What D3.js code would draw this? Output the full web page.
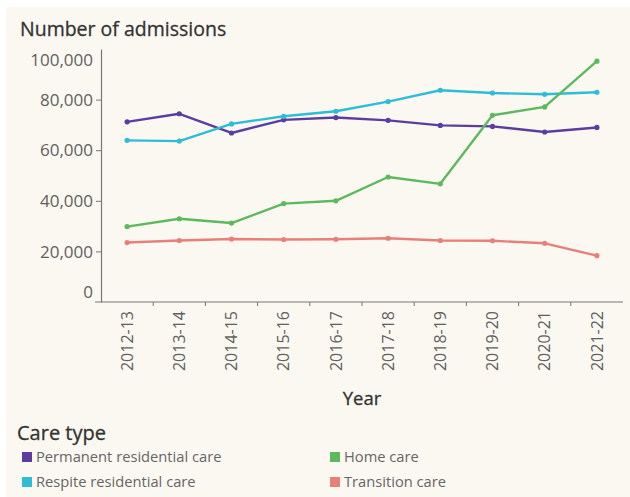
<!DOCTYPE html>
<html>
<head>
<meta charset="utf-8">
<script src="https://cdn.jsdelivr.net/npm/d3@7"></script>
<style>
  html, body { margin: 0; padding: 0; background: #fff; }
  svg { display: block; }
</style>
</head>
<body>
<div id="chart"></div>
<script>
// Data
const years = ["2012-13", "2013-14", "2014-15", "2015-16", "2016-17",
  "2017-18", "2018-19", "2019-20", "2020-21", "2021-22"];
const permanent = [71200, 74400, 66800, 72000, 72900, 71800, 69800, 69400, 67200, 69000];
const respite = [63900, 63600, 70400, 73400, 75400, 79200, 83700, 82600, 82100, 82900];
const homeCare = [29800, 32900, 31200, 38900, 40000, 49400, 46700, 73800, 77100, 95200];
const transition = [23500, 24300, 24900, 24700, 24800, 25200, 24300, 24200, 23200, 18300];
const yTicks = [0, 20000, 40000, 60000, 80000, 100000];

const seriesNames = ["Permanent residential care", "Respite residential care", "Home care", "Transition care"];
const seriesValues = [permanent, respite, homeCare, transition];
const colors = ["#5b3d9f", "#2dbdd6", "#5db95d", "#e8807a"];

const width = 630, height = 497;
const margin = { left: 101, right: 7, top: 49, bottom: 195 };
const font = "'Open Sans', 'Noto Sans', sans-serif";

const svg = d3.select("#chart").append("svg")
  .attr("width", width)
  .attr("height", height)
  .attr("font-family", font);

// cream panel
svg.append("rect")
  .attr("x", 6).attr("y", 7)
  .attr("width", width - 6).attr("height", height - 7)
  .attr("fill", "#fbf8f2");

const x = d3.scaleBand()
  .domain(years)
  .range([margin.left, width - margin.right]);

const y = d3.scaleLinear()
  .domain([0, 100000])
  .range([height - margin.bottom, margin.top]);

// y axis
const yAxis = svg.append("g")
  .attr("transform", `translate(${margin.left},0)`)
  .call(d3.axisLeft(y).tickValues(yTicks).tickSize(5).tickSizeOuter(0)
    .tickFormat(d3.format(",")));
yAxis.select(".domain").attr("stroke", "#777").attr("stroke-width", 1.2);
yAxis.selectAll(".tick line").attr("stroke", "#777")
  .attr("opacity", (d) => (d === 0 || d === 100000 ? 0 : 1));
yAxis.selectAll(".tick text")
  .attr("x", -8)
  .attr("fill", "#606060")
  .attr("font-size", 17)
  .attr("font-family", font)
  .attr("dy", (d) => (d === 0 ? "-0.28em" : d === 100000 ? "0.95em" : "0.34em"));

// x axis
const xAxis = svg.append("g")
  .attr("transform", `translate(0,${height - margin.bottom})`)
  .call(d3.axisBottom(x).tickSize(0));
xAxis.select(".domain").attr("stroke", "#777").attr("stroke-width", 1.2)
  .attr("d", `M${margin.left - 6},0H${width - margin.right}`);
xAxis.selectAll(".tick text")
  .attr("transform", "rotate(-90)")
  .attr("text-anchor", "end")
  .attr("x", -9)
  .attr("y", 0)
  .attr("dy", "0.36em")
  .attr("fill", "#606060")
  .attr("font-size", 16)
  .attr("font-family", font);

// tick marks between bands
svg.append("g")
  .selectAll("line")
  .data(years.slice(1))
  .join("line")
  .attr("x1", (d) => x(d))
  .attr("x2", (d) => x(d))
  .attr("y1", height - margin.bottom)
  .attr("y2", height - margin.bottom + 4)
  .attr("stroke", "#777");

// lines
const line = d3.line()
  .x((d, i) => x(years[i]) + x.bandwidth() / 2)
  .y((d) => y(d));

seriesValues.forEach((vals, k) => {
  svg.append("path")
    .datum(vals)
    .attr("fill", "none")
    .attr("stroke", colors[k])
    .attr("stroke-width", 2.4)
    .attr("stroke-linejoin", "round")
    .attr("d", line);
  svg.append("g")
    .selectAll("circle")
    .data(vals)
    .join("circle")
    .attr("cx", (d, i) => x(years[i]) + x.bandwidth() / 2)
    .attr("cy", (d) => y(d))
    .attr("r", 2.6)
    .attr("fill", colors[k]);
});

// titles
svg.append("text")
  .attr("x", 20).attr("y", 36)
  .attr("font-size", 19.5)
  .attr("fill", "#333")
  .attr("stroke", "#333")
  .attr("stroke-width", 0.3)
  .text("Number of admissions");

svg.append("text")
  .attr("x", (margin.left + width - margin.right) / 2)
  .attr("y", 405)
  .attr("text-anchor", "middle")
  .attr("font-size", 18.5)
  .attr("fill", "#333")
  .attr("stroke", "#333")
  .attr("stroke-width", 0.3)
  .text("Year");

svg.append("text")
  .attr("x", 17).attr("y", 440)
  .attr("font-size", 20)
  .attr("fill", "#333")
  .attr("stroke", "#333")
  .attr("stroke-width", 0.3)
  .text("Care type");

// legend
const legend = svg.append("g")
  .selectAll("g")
  .data(seriesNames)
  .join("g")
  .attr("transform", (d, i) =>
    `translate(${i < 2 ? 22 : 330},${i % 2 === 0 ? 452 : 477})`);
legend.append("rect")
  .attr("width", 10).attr("height", 10)
  .attr("fill", (d, i) => colors[i]);
legend.append("text")
  .attr("x", 14).attr("y", 5)
  .attr("dy", "0.36em")
  .attr("font-size", 14.7)
  .attr("fill", "#666")
  .text((d) => d);
</script>
</body>
</html>
